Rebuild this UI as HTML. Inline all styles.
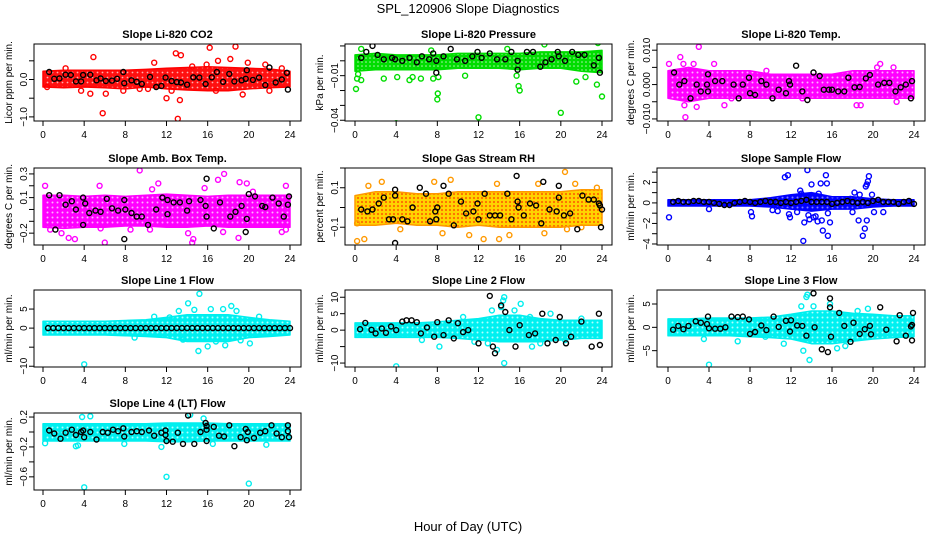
<!DOCTYPE html>
<html><head><meta charset="utf-8">
<style>
html,body{margin:0;padding:0;background:#fff;}
svg{display:block;font-family:"Liberation Sans",Arial,sans-serif;}
</style></head>
<body>
<svg id="chart" width="936" height="540" viewBox="0 0 936 540">
<defs>
<pattern id="p-red" width="5" height="5" patternUnits="userSpaceOnUse"><rect width="5" height="5" fill="#ff1010"/><circle cx="2.5" cy="2.5" r="0.9" fill="#ffb0b0"/></pattern>
<pattern id="p-green" width="4" height="4" patternUnits="userSpaceOnUse"><rect width="4" height="4" fill="#00dd00"/><circle cx="2" cy="2" r="0.8" fill="#b0f0b0"/></pattern>
<pattern id="p-magenta" width="5" height="5" patternUnits="userSpaceOnUse"><rect width="5" height="5" fill="#ff00ff"/><circle cx="2.5" cy="2.5" r="1" fill="#ffb0ff"/></pattern>
<pattern id="p-rh" width="4" height="4" patternUnits="userSpaceOnUse"><rect width="4" height="4" fill="#ffd400"/><circle cx="2" cy="2" r="1.1" fill="#ff6a00"/></pattern>
<pattern id="p-blue" width="5" height="5" patternUnits="userSpaceOnUse"><rect width="5" height="5" fill="#0000ff"/><circle cx="2.5" cy="2.5" r="1" fill="#8080ff"/></pattern>
<pattern id="p-cyan" width="5" height="5" patternUnits="userSpaceOnUse"><rect width="5" height="5" fill="#00f0f0"/><circle cx="2.5" cy="2.5" r="1" fill="#b0ffff"/></pattern>
</defs>
<text x="468" y="13" text-anchor="middle" font-size="13">SPL_120906  Slope Diagnostics</text>
<text x="468" y="531" text-anchor="middle" font-size="13">Hour of Day (UTC)</text>
</svg>
<script>
// ---- shared categories ----
const bandHours = [0,2,4,6,8,10,12,14,16,18,20,22,24];
const xTicks = [0,4,8,12,16,20,24];
const halfHours = [0.5,1,1.5,2,2.5,3,3.5,4,4.5,5,5.5,6,6.5,7,7.5,8,8.5,9,9.5,10,10.5,11,11.5,12,12.5,13,13.5,14,14.5,15,15.5,16,16.5,17,17.5,18,18.5,19,19.5,20,20.5,21,21.5,22,22.5,23,23.5,24];

// ---- CO2 ----
const co2Lo = [-0.2,-0.22,-0.2,-0.22,-0.25,-0.2,-0.25,-0.28,-0.3,-0.3,-0.25,-0.22,-0.2];
const co2Hi = [0.22,0.25,0.25,0.25,0.25,0.27,0.3,0.32,0.34,0.32,0.3,0.28,0.22];
const co2Out = [[4.9,0.6],[5.8,-0.9],[10.8,0.45],[12.9,0.7],[13.4,0.65],[13.3,-0.55],[13.1,-1.05],[12,-0.5],[16.2,0.85],[18.7,0.88],[18.2,0.55],[15.9,0.4],[19.4,-0.4],[17,0.5],[6.1,-0.38],[4.6,-0.38],[21.6,0.4],[22,-0.3],[23.2,0.3],[3.7,-0.3],[7.8,-0.3],[16.8,-0.3],[12.5,-0.3],[9.4,-0.25],[14.5,0.35],[0.4,-0.2],[2.2,0.3],[10.2,-0.25],[19.9,0.45]];
const co2Blk = [[0.6,0.2],[1.1,0.02],[1.6,0.03],[2.2,0.13],[2.7,0.12],[3.2,-0.05],[3.7,-0.05],[3.9,0.12],[4.6,0.13],[5.2,-0.02],[5.6,0.03],[6.1,-0.04],[6.7,-0.03],[7.2,0.02],[7.8,0.2],[7.9,-0.1],[8.6,-0.02],[9.1,-0.06],[9.6,-0.12],[10.4,0.07],[11,-0.2],[11.5,-0.17],[11.9,0.05],[12.5,-0.04],[13,-0.07],[13.4,-0.08],[14,-0.14],[14.6,0.06],[15.2,0.05],[15.8,-0.12],[16.4,0.06],[16.9,0.2],[17.5,-0.06],[18.1,0.15],[18.6,-0.05],[19.3,-0.02],[19.7,0.02],[19.8,0.25],[20.4,-0.01],[21,0.05],[21.6,-0.15],[22,0.32],[22.6,-0.08],[23.2,0.0],[23.7,0.18],[23.8,-0.27]];

// ---- Pressure ----
const prLo = [-0.007,-0.006,-0.006,-0.006,-0.006,-0.005,-0.005,-0.005,-0.006,-0.005,-0.005,-0.007,-0.008];
const prHi = [0.004,0.005,0.004,0.004,0.004,0.005,0.005,0.005,0.005,0.006,0.006,0.006,0.007];
const prOut = [[0.1,-0.019],[0.2,-0.012],[0.6,-0.013],[0.3,-0.009],[4,-0.042],[4.1,-0.011],[2.8,-0.012],[5.3,-0.013],[6.4,-0.012],[7.6,-0.012],[8,-0.026],[8.05,-0.022],[8.1,-0.011],[12,-0.038],[10.7,-0.01],[15.9,-0.017],[16,-0.02],[15.7,-0.01],[20,-0.035],[21.5,-0.014],[23.5,-0.016],[24,-0.024],[18.4,0.011],[23.6,0.012],[14.8,0.008],[0.6,0.008],[7.4,0.007],[22.4,-0.011],[5.6,-0.011]];
const prBlk = [[0.6,0.002],[1.1,0.006],[1.7,0.01],[2.2,0.004],[2.8,0.001],[3.6,0.002],[3.9,0.001],[4.6,0.0],[5.3,0.002],[6,-0.001],[6.5,0.003],[7.2,0.001],[7.6,0.005],[7.9,-0.008],[7.9,0.0],[8.6,0.003],[9.3,0.008],[9.9,0.001],[10.7,0.0],[11.4,0.003],[11.9,0.006],[12.3,0.002],[13.1,0.005],[13.8,0.001],[14.6,0.001],[15.2,0.006],[15.8,-0.006],[15.8,0.0],[16.7,0.006],[17.3,0.006],[18,-0.004],[18.5,-0.001],[19.1,0.001],[19.7,0.006],[19.8,0.003],[20.4,0.0],[21.1,0.006],[21.7,0.004],[22.3,0.004],[23.2,-0.003],[23.7,0.002],[23.8,-0.008]];

// ---- Li-820 Temp ----
const tLo = [-0.004,-0.005,-0.004,-0.004,-0.004,-0.004,-0.004,-0.004,-0.004,-0.004,-0.004,-0.004,-0.004];
const tHi = [0.004,0.005,0.004,0.004,0.004,0.003,0.003,0.003,0.003,0.004,0.004,0.004,0.004];
const tOut = [[1.2,0.008],[3,0.011],[0.1,0.006],[1.7,-0.0095],[2.8,-0.0065],[1.6,-0.006],[5.5,-0.006],[18.4,-0.006],[18.8,-0.006],[20.7,0.006],[20.4,0.005],[1.5,0.006],[2.5,0.006],[4.5,0.006],[22.3,-0.005],[9.6,0.004],[6.2,-0.004],[13.1,-0.004],[22,0.005]];
const tBlk = [[0.6,0.0035],[1.1,0.0],[1.6,0.001],[2.2,-0.004],[2.8,0.0],[3.2,-0.002],[3.8,0.0],[3.9,0.003],[3.9,-0.002],[4.6,0.001],[5.3,0.001],[6.4,0.0],[6.9,-0.004],[7.3,0.0],[7.9,0.002],[8,-0.0025],[8.5,-0.003],[9.1,0.001],[9.6,0.0],[10.2,-0.004],[10.8,-0.0015],[11.5,-0.0025],[11.8,0.001],[11.9,0.0],[12.5,0.0055],[13.1,-0.002],[13.6,-0.0045],[14.2,0.0035],[14.8,0.0025],[15.2,-0.0015],[15.7,-0.0015],[16,-0.0015],[16.6,-0.002],[17.2,-0.002],[17.6,0.002],[18.2,-0.0008],[18.7,-0.0007],[19.3,0.0018],[19.7,0.0028],[20.5,0.0],[21.1,0.0005],[21.6,0.0005],[22.2,-0.002],[22.7,-0.0008],[23.2,0.0],[23.7,-0.004],[23.8,0.001]];

// ---- Amb Box Temp ----
const aLo = [-0.15,-0.16,-0.15,-0.15,-0.14,-0.14,-0.15,-0.15,-0.14,-0.15,-0.15,-0.15,-0.15];
const aHi = [0.12,0.12,0.11,0.12,0.11,0.12,0.13,0.12,0.11,0.12,0.12,0.12,0.12];
const aOut = [[9.4,0.33],[0.2,0.2],[6,-0.28],[5.5,0.2],[11.2,0.22],[15.7,0.18],[17,0.25],[17.6,0.3],[19.1,0.23],[19.8,0.22],[23.6,0.2],[0.7,-0.17],[1.8,-0.2],[2.5,-0.24],[5.6,-0.16],[14.1,-0.2],[14.5,-0.28],[14.6,-0.25],[17.5,-0.19],[19,-0.24],[23.2,-0.19],[23.6,-0.17],[10.6,0.17],[20.4,0.15],[8.5,-0.17],[10.4,-0.17],[3.1,-0.25]];
const aBlk = [[0.6,0.12],[1.2,-0.17],[1.6,0.12],[2.2,0.04],[2.8,0.07],[3.2,0.0],[3.9,0.1],[3.9,-0.13],[4.1,0.05],[4.5,-0.03],[5.1,-0.01],[5.6,-0.02],[6.2,0.09],[6.7,0.01],[7.3,-0.01],[7.9,0.08],[8,0.0],[7.9,-0.25],[8.6,-0.03],[9.1,-0.06],[9.6,-0.06],[10.2,-0.13],[11,0.0],[11.6,0.1],[12.1,0.08],[12.1,-0.04],[12.7,0.06],[13.3,0.06],[14.2,0.07],[14,-0.01],[15.3,0.08],[15.9,0.26],[15.8,0.03],[15.9,-0.06],[16.6,-0.16],[17.2,0.06],[18.2,-0.06],[18.7,-0.02],[19.3,0.03],[19.8,-0.08],[19.7,-0.19],[20,0.13],[20.6,0.11],[21.3,0.03],[21.6,0.02],[22.3,0.1],[22.9,0.05],[23.4,-0.06],[23.9,0.11],[23.8,0.04]];

// ---- Gas Stream RH ----
const rhLo = [-0.09,-0.09,-0.08,-0.09,-0.09,-0.1,-0.09,-0.1,-0.1,-0.1,-0.1,-0.09,-0.09];
const rhHi = [0.06,0.08,0.08,0.07,0.07,0.08,0.08,0.08,0.08,0.08,0.08,0.09,0.09];
const rhOut = [[0.2,-0.17],[0.9,-0.16],[20.4,0.18],[21.4,0.12],[9.3,0.14],[2.6,0.13],[7.7,0.13],[13.8,0.12],[15,-0.14],[12.5,-0.16],[11.1,-0.14],[18.4,-0.13],[20.6,-0.11],[4.4,-0.11],[1.3,0.11],[17.8,0.12],[8.5,-0.13],[22,-0.1],[0.2,-0.08],[23.5,0.1],[14,-0.16]];
const rhBlk = [[0.6,-0.01],[1.2,-0.02],[1.7,-0.01],[2.3,0.02],[2.8,0.05],[3.3,-0.06],[3.7,-0.06],[3.9,0.06],[3.9,0.09],[3.9,-0.18],[4.6,-0.06],[5.1,-0.07],[5.6,0.0],[6.3,0.1],[6.9,0.07],[7.3,-0.07],[7.8,-0.02],[7.9,-0.06],[8,0.0],[8.6,0.11],[9.1,0.07],[9.6,-0.09],[10.3,0.03],[10.8,-0.03],[11.5,-0.02],[11.9,0.02],[12,-0.06],[12.6,0.07],[13.1,-0.04],[13.6,-0.04],[14.1,-0.04],[14.8,0.07],[15.2,-0.06],[15.7,0.16],[15.8,0.03],[15.9,0.0],[16.4,-0.04],[17,0.02],[17.6,0.01],[18.1,-0.08],[18.3,0.13],[18.9,-0.01],[19.6,-0.02],[19.8,0.05],[19.8,0.11],[20.3,-0.04],[20.9,-0.03],[21.6,-0.11],[22.1,0.06],[22.7,0.04],[23.2,0.04],[23.7,0.02],[23.8,0.01],[23.9,-0.1],[24,-0.01]];

// ---- Sample Flow ----
const sfLo = [-0.3,-0.3,-0.3,-0.3,-0.3,-0.4,-0.6,-0.8,-0.6,-0.6,-0.4,-0.3,-0.3];
const sfHi = [0.3,0.3,0.3,0.3,0.3,0.5,0.8,1.0,0.6,0.6,0.4,0.3,0.3];
const sfOut = [[0.1,-1.4],[4,-0.6],[8.1,-0.9],[8.2,-1.3],[11.4,2.5],[11.7,2.7],[11.8,-1.1],[11.9,-1.4],[12.6,-0.9],[13.3,-1.9],[13.2,-3.7],[13.6,3.2],[14,1.8],[13.8,-1.6],[14.7,0.9],[14.9,1.9],[15.4,2.7],[15.5,1.9],[15.1,-2.7],[15,-1.7],[15.6,-3.2],[15.8,-1.9],[15.6,-1],[14.4,-1.3],[18.2,1],[18.7,0.8],[19,-3.2],[19.2,-2.5],[19.3,1.6],[19.5,2.1],[19.6,2.6],[19.4,-1.7],[18.6,-1.7],[19.9,0.8],[20.1,-0.9],[21,-0.9],[10.7,-0.8],[10.2,-0.7],[14.2,-1.4],[13,0.9],[12.9,1.2],[13.5,0.7],[18,-0.9],[17.8,0.4],[19.4,1.8],[13.7,-1.2],[14.6,-1.8]];
const sfBlk = [0.1,0.2,0.1,0.1,0.2,0.2,0.1,0.1,0.0,-0.1,-0.2,-0.2,0.0,0.1,0.2,0.1,0.0,0.1,0.2,0.1,0.1,0.0,0.1,0.0,0.1,0.2,0.3,0.1,0.1,0.1,0.1,-0.1,0.0,0.1,0.2,0.1,0.0,0.1,0.0,0.2,0.3,0.1,0.1,0.1,-0.1,0.1,0.2,-0.1];

// ---- Line 1 Flow ----
const l1Lo = [-1.8,-1.8,-1.8,-1.8,-2,-2.2,-2.5,-3.5,-3.5,-3.5,-2.5,-2.2,-1.8];
const l1Hi = [1.8,1.8,1.8,1.8,2,2.2,2.8,3.5,3.5,3.5,2.8,2.2,1.8];
const l1Out = [[4,-9.5],[15.2,9],[13.2,4.5],[14.1,6.5],[15.1,-6],[16,-4.8],[16.3,5],[17.5,5],[18.3,5.8],[18.8,4.5],[19.2,-3.2],[17.7,-4.5],[13.6,-3],[20.1,-4],[10.8,3],[14.7,4.8],[12.3,2.8],[21,3],[16.8,-3.5],[8.9,-2.5]];
const l1Blk = [0,0,0,0,0,0,0,0,0,0,0,0,0,0,0,0,0,0,0,0,0,0,0,0,0,0,0,0,0,0,0,0,0,0,0,0,0,0,0,0,0,0,0,0,0,0,0,0];

// ---- Line 2 Flow ----
const l2Lo = [-2.2,-2.2,-2.2,-2.2,-2.2,-2.5,-3,-3.5,-3.5,-3.5,-3,-2.5,-2.5];
const l2Hi = [2.2,2.2,2.2,2.2,2.5,3,3.5,4.5,4.5,3.5,3,3,3];
const l2Out = [[4,-11],[14.5,10],[14.4,9],[14.5,-10],[16.1,8],[14.2,7],[13.3,6],[12.9,-4],[17,4],[17.2,-5],[19,5],[20.4,-3],[8.2,-5],[11.6,-3.5],[15.5,6],[13.8,-6],[18,-4],[22,3.5],[10.5,4],[6.5,-3]];
const l2Blk = [[0.5,0.3],[1,2.2],[1.6,0.1],[2,-1],[2.6,0.5],[3,-0.8],[3.5,1.1],[4,0],[4.6,2.6],[5,3],[5.5,3],[6,2.4],[6.4,-1],[7,0.8],[7.7,-2],[8,2.4],[8.6,-1.5],[9.1,3],[9.6,-2.5],[10,2.1],[10.5,-0.6],[11,0],[12,-4],[13.1,10.4],[13.4,-5],[13.6,-7],[14.2,7.5],[14.6,5.5],[15,0],[15.6,-5],[16,1.5],[16.9,-1.5],[17.5,-1],[18.2,5],[18.7,-4],[19.5,-3],[19.9,4],[20.5,-4],[21,-2],[22,2.6],[23,-5],[23.7,5],[23.8,-4.5]];

// ---- Line 3 Flow ----
const l3Lo = [-1.8,-1.8,-1.8,-1.8,-2,-2.2,-2.5,-3.5,-3.5,-3,-2.5,-2.2,-2];
const l3Hi = [1.8,1.8,2,2,2,2.2,2.8,3.5,3.5,3,2.8,2.5,2.5];
const l3Out = [[4,-8],[13.6,7],[13.5,6.5],[13.8,-7],[13.2,-5],[15.8,5],[14.2,4.5],[17.3,-4],[16.5,-4.5],[11.3,-3.5],[9.5,-2],[13,4.5],[18.5,3.5],[19.5,4],[6.8,-3],[3.5,-2.5]];
const l3Blk = [[0.5,-0.5],[1,0.3],[1.5,-0.4],[2,0.3],[2.7,1.3],[3.2,1],[3.8,0.7],[3.9,2.3],[4,-0.2],[4.6,-0.3],[5.1,-0.3],[5.6,0],[6.2,2.3],[6.8,2.2],[7.3,2.3],[7.9,1.7],[8,-1.4],[8.5,-1],[9.1,0.4],[9.6,-0.6],[10.3,2.3],[10.8,0.1],[11.5,1.4],[11.9,-0.9],[12,1.5],[12.6,0.4],[13.1,0.3],[13.5,-1.8],[14.2,7.3],[14.3,0],[15,-4.7],[15.6,-5.3],[15.8,6.2],[15.8,4.3],[15.9,-2],[16.7,3.1],[17.2,0.3],[17.8,-3.1],[18.1,1],[18.7,-1.4],[19.2,-0.4],[19.7,0.3],[19.8,-1.5],[20.7,4.3],[21.3,-0.5],[22.3,-3],[22.6,2.6],[23.2,-1.8],[23.7,0.2],[23.8,0.5],[23.9,3.1],[23.8,-2.8]];

// ---- Line 4 (LT) Flow ----
const l4Lo = [-0.12,-0.12,-0.12,-0.12,-0.12,-0.12,-0.13,-0.13,-0.12,-0.12,-0.12,-0.12,-0.12];
const l4Hi = [0.11,0.11,0.11,0.11,0.11,0.11,0.12,0.12,0.12,0.11,0.11,0.11,0.11];
const l4Out = [[4,-0.74],[12,-0.6],[20,-0.69],[3.8,0.2],[4.6,0.21],[14.3,0.23],[15.6,0.18],[11.5,-0.2],[3.2,-0.19],[3.4,-0.18],[21.7,-0.17],[0.2,-0.15],[7.9,-0.16],[16.5,-0.16]];
const l4Blk = [[0.6,0.02],[1.1,-0.02],[1.7,-0.09],[2.2,-0.01],[2.8,0.03],[3.2,-0.04],[3.7,0.0],[3.9,0.02],[4,-0.07],[4.6,0.0],[5.2,-0.1],[5.8,0.0],[6.3,-0.01],[6.8,0.03],[7.3,0.01],[7.8,0.05],[7.9,-0.06],[8.6,0.0],[9.1,0.01],[9.6,0.0],[10.3,0.02],[10.8,-0.05],[11.5,-0.01],[11.9,0.02],[11.9,-0.04],[12,-0.12],[12.6,-0.13],[13.1,-0.01],[13.6,-0.16],[14.1,0.22],[14.7,-0.16],[15.3,0.0],[15.8,0.12],[15.9,0.08],[15.9,0.03],[15.9,-0.12],[16.6,0.07],[17.1,-0.05],[17.6,-0.06],[18.1,0.09],[18.6,-0.19],[19.2,-0.07],[19.7,0.04],[19.8,-0.11],[19.9,0.0],[20.5,-0.08],[21.1,-0.01],[21.6,0.01],[22.2,0.09],[22.7,-0.02],[23.2,-0.07],[23.8,0.09],[23.8,0.01],[23.9,-0.07]];

// ---- layout (not data) ----
const cols = [{l:34,r:301,x0:43,x24:290,yl:12,tl:27},{l:345,r:612,x0:355,x24:602,yl:323,tl:338},{l:657,r:925,x0:668,x24:914,yl:634,tl:650}];
const rowTop = [44,168,290,413];
const H = 77;
const colors = {red:'#ff0000',green:'#00dd00',magenta:'#ff00ff',rh:'#ff9900',blue:'#0000ff',cyan:'#00eeee'};

const panels = [
 {name:'co2',title:'Slope Li-820 CO2',ylab:'Licor ppm per min.',c:0,r:0,dom:[-1.11,0.95],ticks:[-1,-0.5,0,0.5],lab:{'-1':'-1.0','0':'0.0'},col:'red',pat:'p-red',lo:co2Lo,hi:co2Hi,out:co2Out,blk:co2Blk},
 {name:'pressure',title:'Slope Li-820 Pressure',ylab:'kPa per min.',c:1,r:0,dom:[-0.0405,0.0113],ticks:[-0.04,-0.03,-0.02,-0.01,0,0.01],lab:{'-0.04':'-0.04','-0.01':'-0.01'},col:'green',pat:'p-green',lo:prLo,hi:prHi,out:prOut,blk:prBlk},
 {name:'li820-temp',title:'Slope Li-820 Temp.',ylab:'degrees C per min.',c:2,r:0,dom:[-0.0106,0.0118],ticks:[-0.01,-0.005,0,0.005,0.01],lab:{'-0.01':'-0.010','0':'0.000','0.01':'0.010'},col:'magenta',pat:'p-magenta',lo:tLo,hi:tHi,out:tOut,blk:tBlk},
 {name:'amb-box-temp',title:'Slope Amb. Box Temp.',ylab:'degrees C per min.',c:0,r:1,dom:[-0.3,0.35],ticks:[-0.2,-0.1,0,0.1,0.2,0.3],lab:{'-0.2':'-0.2','0.1':'0.1','0.3':'0.3'},col:'magenta',pat:'p-magenta',lo:aLo,hi:aHi,out:aOut,blk:aBlk},
 {name:'gas-stream-rh',title:'Slope Gas Stream RH',ylab:'percent per min.',c:1,r:1,dom:[-0.19,0.2],ticks:[-0.1,0,0.1,0.2],lab:{'-0.1':'-0.1','0.1':'0.1'},col:'rh',pat:'p-rh',lo:rhLo,hi:rhHi,out:rhOut,blk:rhBlk},
 {name:'sample-flow',title:'Slope Sample Flow',ylab:'ml/min per min.',c:2,r:1,dom:[-4.1,3.4],ticks:[-4,-3,-2,-1,0,1,2,3],lab:{'-4':'-4','-2':'-2','0':'0','2':'2'},col:'blue',pat:'p-blue',lo:sfLo,hi:sfHi,out:sfOut,blk:halfHours.map((h,i)=>[h,sfBlk[i]])},
 {name:'line1-flow',title:'Slope Line 1 Flow',ylab:'ml/min per min.',c:0,r:2,dom:[-10.2,10],ticks:[-10,-5,0,5],lab:{'-10':'-10','0':'0','5':'5'},col:'cyan',pat:'p-cyan',lo:l1Lo,hi:l1Hi,out:l1Out,blk:halfHours.map((h,i)=>[h,l1Blk[i]])},
 {name:'line2-flow',title:'Slope Line 2 Flow',ylab:'ml/min per min.',c:1,r:2,dom:[-11.2,12.2],ticks:[-10,-5,0,5,10],lab:{'-10':'-10','0':'0','5':'5','10':'10'},col:'cyan',pat:'p-cyan',lo:l2Lo,hi:l2Hi,out:l2Out,blk:l2Blk},
 {name:'line3-flow',title:'Slope Line 3 Flow',ylab:'ml/min per min.',c:2,r:2,dom:[-8.5,8],ticks:[-5,0,5],lab:{'-5':'-5','0':'0','5':'5'},col:'cyan',pat:'p-cyan',lo:l3Lo,hi:l3Hi,out:l3Out,blk:l3Blk},
 {name:'line4-flow',title:'Slope Line 4 (LT) Flow',ylab:'ml/min per min.',c:0,r:3,dom:[-0.776,0.254],ticks:[-0.6,-0.4,-0.2,0,0.2],lab:{'-0.6':'-0.6','-0.2':'-0.2','0.2':'0.2'},col:'cyan',pat:'p-cyan',lo:l4Lo,hi:l4Hi,out:l4Out,blk:l4Blk}
];

const NS='http://www.w3.org/2000/svg';
const svg=document.getElementById('chart');
function mk(tag,attrs,parent){const e=document.createElementNS(NS,tag);for(const k in attrs)e.setAttribute(k,attrs[k]);(parent||svg).appendChild(e);return e;}
function ring(g,x,y,color,name){
  const c=mk('circle',{cx:x.toFixed(1),cy:y.toFixed(1),r:2.5,fill:'none',stroke:color,'stroke-width':1.4},g);
  
  
}

panels.forEach(p=>{
  const C=cols[p.c], top=rowTop[p.r], bot=top+H;
  const xs=h=>C.x0+(h/24)*(C.x24-C.x0);
  const ys=v=>bot-(v-p.dom[0])/(p.dom[1]-p.dom[0])*H;
  const g=mk('g',{});
  
  
  const clipId='clip-'+p.name;
  const cp=mk('clipPath',{id:clipId},g);mk('rect',{x:C.l,y:top,width:C.r-C.l,height:H},cp);
  const pg=mk('g',{'clip-path':'url(#'+clipId+')'},g);
  let pts=bandHours.map((h,i)=>xs(h).toFixed(1)+','+ys(p.hi[i]).toFixed(1));
  pts=pts.concat(bandHours.map((h,i)=>xs(h).toFixed(1)+','+ys(p.lo[i]).toFixed(1)).reverse());
  const band=mk('polygon',{points:pts.join(' '),fill:'url(#'+p.pat+')',stroke:colors[p.col],'stroke-width':1.5,'stroke-linejoin':'round'},pg);
  
  
  p.out.forEach(d=>ring(pg,xs(d[0]),ys(d[1]),colors[p.col],'outlier-point'));
  p.blk.forEach(d=>ring(pg,xs(d[0]),ys(d[1]),'#000','hourly-point'));
  const fr=mk('rect',{x:C.l,y:top,width:C.r-C.l,height:H,fill:'none',stroke:'#000','stroke-width':1},g);
  
  
  const t=mk('text',{x:(C.l+C.r)/2,y:top-6,'text-anchor':'middle','font-size':11,'font-weight':'bold'},g);
  t.textContent=p.title;
  
  
  mk('line',{x1:xs(0),x2:xs(24),y1:bot,y2:bot,stroke:'#000'},g);
  xTicks.forEach(h=>{
    mk('line',{x1:xs(h),x2:xs(h),y1:bot,y2:bot+5,stroke:'#000'},g);
    const tx=mk('text',{x:xs(h),y:bot+17,'text-anchor':'middle','font-size':10},g);
    tx.textContent=h;
    
    
  });
  mk('line',{x1:C.l,x2:C.l,y1:ys(p.ticks[0]),y2:ys(p.ticks[p.ticks.length-1]),stroke:'#000'},g);
  p.ticks.forEach(v=>{
    const y=ys(v);
    mk('line',{x1:C.l-5,x2:C.l,y1:y,y2:y,stroke:'#000'},g);
    const key=String(v);
    if(p.lab[key]!==undefined){
      const ty=mk('text',{x:C.tl,y:y,'text-anchor':'middle','font-size':10,transform:'rotate(-90 '+C.tl+' '+y.toFixed(1)+')'},g);
      ty.textContent=p.lab[key].replace('-','\u2212');
      
      
    }
  });
  const yl=mk('text',{x:C.yl,y:(top+bot)/2,'text-anchor':'middle','font-size':10,transform:'rotate(-90 '+C.yl+' '+((top+bot)/2)+')'},g);
  yl.textContent=p.ylab;
  
  
});
</script>
</body></html>
